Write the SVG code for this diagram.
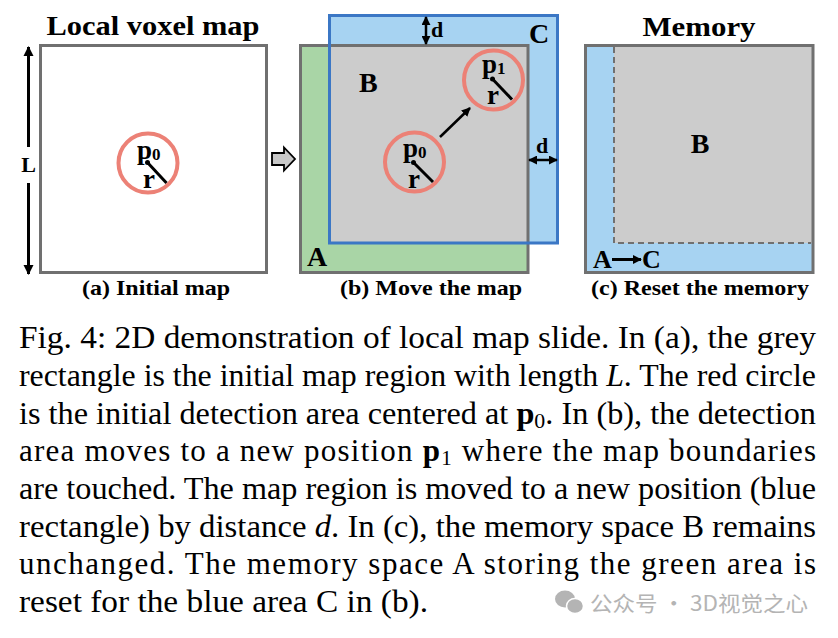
<svg xmlns="http://www.w3.org/2000/svg" width="838" height="638" viewBox="0 0 838 638">
<defs>
<marker id="ah" viewBox="0 0 10 10" refX="9" refY="5" markerWidth="10" markerHeight="11" markerUnits="userSpaceOnUse" orient="auto-start-reverse">
<path d="M0,0 L10,5 L0,10 Z" fill="#000"/>
</marker>
<marker id="ahs" viewBox="0 0 10 10" refX="9" refY="5" markerWidth="9" markerHeight="9" markerUnits="userSpaceOnUse" orient="auto-start-reverse">
<path d="M0,0 L10,5 L0,10 Z" fill="#000"/>
</marker>
<style>
.t{font-family:"Liberation Serif","Times New Roman",serif;font-weight:bold;fill:#000}
.cap{font-family:"Liberation Serif","Times New Roman",serif;font-size:31px;fill:#000}
.box{stroke:#707070;stroke-width:3}
.circ{fill:none;stroke:#ec8176;stroke-width:4}
.rad{stroke:#000;stroke-width:3}
.lbl{font-size:28px}
.sub{font-size:17px}
.pp{font-size:27px}
</style>
</defs>
<rect width="838" height="638" fill="#fff"/>

<g id="panel-a">
<text class="t" x="153" y="35" font-size="28" text-anchor="middle" textLength="213" lengthAdjust="spacingAndGlyphs">Local voxel map</text>
<rect class="box" x="40.5" y="45.5" width="226" height="227" fill="#fff"/>
<g id="circle-a">
<circle class="circ" cx="148" cy="163" r="29.5"/>
<line class="rad" x1="147.5" y1="162.5" x2="166.5" y2="183"/>
<circle cx="147.5" cy="162.5" r="2.5" fill="#000"/>
<text class="t pp" x="137" y="159">p<tspan class="sub" dy="1">0</tspan></text>
<text class="t pp" x="143" y="188">r</text>
</g>
<text class="t" x="156" y="295" font-size="21" text-anchor="middle" textLength="148" lengthAdjust="spacingAndGlyphs">(a) Initial map</text>
</g>

<g id="panel-b">
<rect x="300" y="45" width="228" height="227" fill="#a9d5a6"/>
<rect x="329.5" y="15" width="228" height="228" fill="#a7d3f2"/>
<rect x="329.5" y="45" width="198.5" height="198" fill="#cccccc"/>
<rect class="box" x="300.5" y="45.5" width="227.5" height="227" fill="none"/>
<rect x="329.5" y="15.5" width="228" height="227.5" fill="none" stroke="#3b77c5" stroke-width="3"/>
<g id="circle-b0">
<circle class="circ" cx="414.5" cy="162" r="29.5"/>
<line class="rad" x1="413.5" y1="162.5" x2="433" y2="182"/>
<circle cx="413.5" cy="162.5" r="2.5" fill="#000"/>
<text class="t pp" x="403" y="157">p<tspan class="sub" dy="1">0</tspan></text>
<text class="t pp" x="408" y="188">r</text>
</g>
<g id="circle-b1">
<circle class="circ" cx="493.5" cy="80" r="29.5"/>
<line class="rad" x1="492.5" y1="79" x2="512" y2="99.5"/>
<circle cx="492.5" cy="79" r="2.5" fill="#000"/>
<text class="t pp" x="482" y="73">p<tspan class="sub" dy="1">1</tspan></text>
<text class="t pp" x="487" y="104">r</text>
</g>
<text class="t lbl" x="359" y="92">B</text>
<text class="t lbl" x="529" y="43">C</text>
<text class="t lbl" x="307" y="266">A</text>
<text class="t" x="431" y="37" font-size="22">d</text>
<text class="t" x="536" y="153" font-size="22">d</text>
<text class="t" x="431" y="295" font-size="21" text-anchor="middle" textLength="182" lengthAdjust="spacingAndGlyphs">(b) Move the map</text>
</g>

<g id="panel-c">
<text class="t" x="699" y="36" font-size="28" text-anchor="middle" textLength="113" lengthAdjust="spacingAndGlyphs">Memory</text>
<rect x="585.5" y="45.5" width="227.5" height="227" fill="#a7d3f2"/>
<rect x="614" y="45.5" width="199" height="197.5" fill="#cccccc"/>
<path d="M614,47 V243 H811" fill="none" stroke="#707070" stroke-width="2" stroke-dasharray="6,4"/>
<rect class="box" x="585.5" y="45.5" width="227.5" height="227" fill="none"/>
<text class="t lbl" x="700" y="153" text-anchor="middle">B</text>
<text class="t" x="593" y="268" font-size="26">A</text>
<line x1="612" y1="259.5" x2="641" y2="259.5" stroke="#000" stroke-width="3" marker-end="url(#ahs)"/>
<text class="t" x="642" y="268" font-size="26">C</text>
<text class="t" x="700" y="295" font-size="21" text-anchor="middle" textLength="218" lengthAdjust="spacingAndGlyphs">(c) Reset the memory</text>
</g>

<g id="connectors">
<line x1="28.5" y1="147" x2="28.5" y2="47" stroke="#000" stroke-width="3" marker-end="url(#ah)"/>
<line x1="28.5" y1="183" x2="28.5" y2="274" stroke="#000" stroke-width="3" marker-end="url(#ah)"/>
<text class="t" x="28.5" y="172" font-size="22" text-anchor="middle">L</text>
<path d="M272,153 H284 V147.5 L295,159 L284,170.5 V165 H272 Z" fill="#c8c8c8" stroke="#000" stroke-width="1.8" stroke-linejoin="miter"/>
<line x1="440" y1="137" x2="470" y2="108" stroke="#000" stroke-width="2.5" marker-end="url(#ahs)"/>
<line x1="426" y1="17" x2="426" y2="44" stroke="#000" stroke-width="2.5" marker-start="url(#ahs)" marker-end="url(#ahs)"/>
<line x1="529" y1="160" x2="557" y2="160" stroke="#000" stroke-width="2.5" marker-start="url(#ahs)" marker-end="url(#ahs)"/>
</g>

<g id="caption">
<text class="cap" x="19" y="348" textLength="797" lengthAdjust="spacingAndGlyphs">Fig. 4: 2D demonstration of local map slide. In (a), the grey</text>
<text class="cap" x="19" y="386" textLength="797" lengthAdjust="spacingAndGlyphs">rectangle is the initial map region with length <tspan font-style="italic">L</tspan>. The red circle</text>
<text class="cap" x="19" y="424" textLength="797" lengthAdjust="spacingAndGlyphs">is the initial detection area centered at <tspan font-weight="bold">p</tspan><tspan font-size="21" dy="4">0</tspan><tspan dy="-4">. In (b), the detection</tspan></text>
<text class="cap" x="19" y="461" textLength="797" lengthAdjust="spacing">area moves to a new position <tspan font-weight="bold">p</tspan><tspan font-size="21" dy="4">1</tspan><tspan dy="-4"> where the map boundaries</tspan></text>
<text class="cap" x="19" y="499" textLength="797" lengthAdjust="spacingAndGlyphs">are touched. The map region is moved to a new position (blue</text>
<text class="cap" x="19" y="537" textLength="797" lengthAdjust="spacingAndGlyphs">rectangle) by distance <tspan font-style="italic">d</tspan>. In (c), the memory space B remains</text>
<text class="cap" x="19" y="574" textLength="797" lengthAdjust="spacing">unchanged. The memory space A storing the green area is</text>
<text class="cap" x="19" y="612" textLength="409" lengthAdjust="spacingAndGlyphs">reset for the blue area C in (b).</text>
</g>

<g id="watermark" fill="#b4b4b4">
<ellipse cx="565" cy="599" rx="10" ry="8.5"/>
<ellipse cx="575" cy="606" rx="8.5" ry="7.5" stroke="#fff" stroke-width="1.5"/>
<text x="590" y="611" font-family="'Noto Sans CJK SC','Noto Sans',sans-serif" font-size="21" fill="#b4b4b4" textLength="218" lengthAdjust="spacingAndGlyphs">公众号 · 3D视觉之心</text>
</g>
</svg>
